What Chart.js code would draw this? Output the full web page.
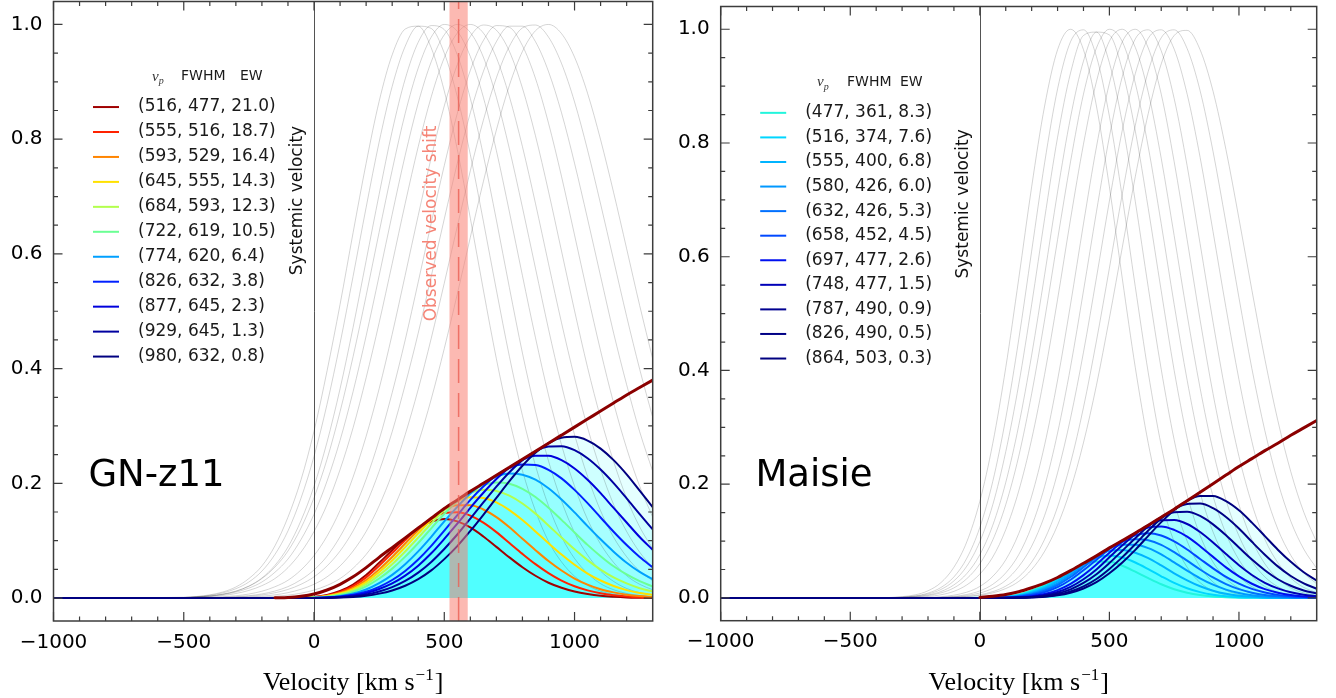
<!DOCTYPE html>
<html>
<head>
<meta charset="utf-8">
<title>Ly-alpha transmitted profiles: GN-z11 and Maisie</title>
<script src="https://cdn.jsdelivr.net/npm/chart.js@4.4.1/dist/chart.umd.min.js"></script>
<style>
  html, body { margin: 0; padding: 0; background: #fff; }
  #wrap { position: relative; width: 1336px; height: 698px; }
  canvas { position: absolute; top: 0; }
  #chartGN { left: 0; }
  #chartMA { left: 668px; }
</style>
</head>
<body>
<div id="wrap">
  <canvas id="chartGN" width="668" height="698"></canvas>
  <canvas id="chartMA" width="668" height="698"></canvas>
</div>
<script>
// #### SHARED VELOCITY GRID (km/s) ####
const V = [-1000, -500, -450, -400, -350, -300, -250, -200, -150, -100, -50, 0, 50, 100, 150, 200, 250, 300, 350, 400, 450, 500, 550, 600, 650, 700, 750, 800, 850, 900, 950, 1000, 1050, 1100, 1150, 1200, 1250, 1300];

const X_TICKS = [-1000, -500, 0, 500, 1000];
const Y_TICKS = [0, 0.2, 0.4, 0.6, 0.8, 1.0];

// #### GN-z11 ####
const vpGN = [516, 555, 593, 645, 684, 722, 774, 826, 877, 929, 980];
const fwhmGN = [477, 516, 529, 555, 593, 619, 620, 632, 645, 645, 632];
const ewGN = [21.0, 18.7, 16.4, 14.3, 12.3, 10.5, 6.4, 3.8, 2.3, 1.3, 0.8];
const obsShift = [520, 590];
const obsShiftMid = 555;

// IGM transmission envelope (dark red)
const transGN = [null, null, null, null, null, null, null, null, 0.0005, 0.001, 0.003, 0.007, 0.014, 0.024, 0.037, 0.053, 0.071, 0.088, 0.105, 0.122, 0.139, 0.156, 0.171, 0.186, 0.200, 0.214, 0.228, 0.242, 0.256, 0.270, 0.284, 0.298, 0.312, 0.326, 0.340, 0.354, 0.367, 0.380];

// intrinsic profiles (grey)
const greyGN = [
  [0, 0.0013, 0.0028, 0.0056, 0.0106, 0.0193, 0.034, 0.056, 0.091, 0.141, 0.206, 0.291, 0.396, 0.512, 0.637, 0.758, 0.866, 0.947, 0.992, 0.997, 0.959, 0.884, 0.782, 0.662, 0.537, 0.417, 0.311, 0.222, 0.152, 0.099, 0.063, 0.038, 0.022, 0.012, 0.0064, 0.0032, 0.0015, 0.0007],
  [0, 0.0012, 0.0024, 0.0048, 0.0090, 0.0163, 0.028, 0.047, 0.076, 0.117, 0.174, 0.247, 0.338, 0.444, 0.561, 0.681, 0.795, 0.892, 0.962, 0.997, 0.993, 0.950, 0.874, 0.773, 0.657, 0.537, 0.421, 0.318, 0.231, 0.161, 0.107, 0.069, 0.043, 0.025, 0.0145, 0.0080, 0.0042, 0.0022],
  [0, 0.0009, 0.0018, 0.0034, 0.0066, 0.0117, 0.021, 0.035, 0.057, 0.089, 0.135, 0.195, 0.272, 0.365, 0.472, 0.588, 0.704, 0.814, 0.905, 0.969, 0.998, 0.991, 0.947, 0.871, 0.772, 0.659, 0.541, 0.427, 0.326, 0.239, 0.169, 0.114, 0.075, 0.047, 0.029, 0.0167, 0.0094, 0.0052],
  [0, 0.0010, 0.0020, 0.0038, 0.0070, 0.0122, 0.0205, 0.034, 0.054, 0.082, 0.122, 0.175, 0.242, 0.325, 0.421, 0.527, 0.638, 0.746, 0.845, 0.924, 0.978, 1.000, 0.988, 0.944, 0.873, 0.780, 0.673, 0.562, 0.454, 0.354, 0.267, 0.195, 0.137, 0.094, 0.062, 0.039, 0.024, 0.0144],
  [0, 0.0009, 0.0018, 0.0033, 0.0060, 0.0105, 0.0173, 0.028, 0.045, 0.068, 0.102, 0.146, 0.204, 0.275, 0.360, 0.457, 0.562, 0.669, 0.772, 0.863, 0.935, 0.982, 1.000, 0.986, 0.943, 0.873, 0.783, 0.681, 0.575, 0.469, 0.371, 0.285, 0.212, 0.152, 0.106, 0.072, 0.047, 0.030],
  [0, 0.0007, 0.0014, 0.0025, 0.0045, 0.0079, 0.0133, 0.0216, 0.034, 0.053, 0.080, 0.116, 0.163, 0.224, 0.297, 0.384, 0.480, 0.583, 0.688, 0.787, 0.874, 0.942, 0.985, 1.000, 0.985, 0.942, 0.874, 0.787, 0.688, 0.583, 0.480, 0.384, 0.297, 0.224, 0.163, 0.116, 0.080, 0.053],
  [0, 0.0003, 0.0006, 0.0012, 0.0023, 0.0040, 0.0070, 0.0119, 0.0197, 0.031, 0.049, 0.074, 0.108, 0.153, 0.211, 0.282, 0.365, 0.460, 0.563, 0.667, 0.768, 0.858, 0.930, 0.979, 0.999, 0.990, 0.953, 0.889, 0.806, 0.709, 0.605, 0.501, 0.402, 0.314, 0.238, 0.174, 0.124, 0.086],
  [0, 0.0002, 0.0003, 0.0007, 0.0013, 0.0024, 0.0042, 0.0072, 0.0122, 0.0199, 0.032, 0.049, 0.073, 0.107, 0.151, 0.207, 0.276, 0.358, 0.450, 0.551, 0.654, 0.754, 0.845, 0.920, 0.972, 0.998, 0.995, 0.963, 0.906, 0.828, 0.735, 0.633, 0.530, 0.431, 0.340, 0.261, 0.195, 0.141],
  [0, 0.0001, 0.0003, 0.0005, 0.0009, 0.0018, 0.0032, 0.0054, 0.0092, 0.0150, 0.024, 0.037, 0.056, 0.082, 0.117, 0.163, 0.221, 0.290, 0.372, 0.462, 0.561, 0.661, 0.758, 0.846, 0.918, 0.970, 0.997, 0.997, 0.970, 0.918, 0.846, 0.758, 0.661, 0.561, 0.462, 0.372, 0.290, 0.221],
  [0, 0.0000, 0.0001, 0.0003, 0.0006, 0.0010, 0.0018, 0.0033, 0.0056, 0.0094, 0.0153, 0.024, 0.037, 0.056, 0.082, 0.116, 0.161, 0.217, 0.285, 0.364, 0.453, 0.549, 0.648, 0.745, 0.833, 0.907, 0.962, 0.994, 0.999, 0.978, 0.932, 0.865, 0.781, 0.687, 0.589, 0.491, 0.399, 0.315],
  [0, 0, 0.0001, 0.0001, 0.0003, 0.0005, 0.0009, 0.0016, 0.0029, 0.0051, 0.0085, 0.0139, 0.022, 0.034, 0.052, 0.076, 0.108, 0.151, 0.205, 0.270, 0.347, 0.435, 0.530, 0.629, 0.726, 0.816, 0.894, 0.953, 0.989, 1.000, 0.984, 0.943, 0.880, 0.799, 0.707, 0.609, 0.510, 0.417]
];

// transmitted profiles (coloured)
const lineGN = [
  [0, 0, 0, 0, 0, 0, 0, 0, 0, 0.0001, 0.0006, 0.0020, 0.0055, 0.0123, 0.0236, 0.0402, 0.0615, 0.0833, 0.1042, 0.1216, 0.1333, 0.1379, 0.1337, 0.1231, 0.1074, 0.0892, 0.0709, 0.0537, 0.0389, 0.0267, 0.0179, 0.0113, 0.0069, 0.0039, 0.0022, 0.0011, 0.0006, 0.0003],
  [0, 0, 0, 0, 0, 0, 0, 0, 0, 0.0001, 0.0005, 0.0017, 0.0047, 0.0107, 0.0208, 0.0361, 0.0564, 0.0785, 0.1010, 0.1216, 0.1380, 0.1482, 0.1495, 0.1438, 0.1314, 0.1149, 0.0960, 0.0770, 0.0591, 0.0435, 0.0304, 0.0206, 0.0134, 0.0082, 0.0049, 0.0028, 0.0015, 0.0008],
  [0, 0, 0, 0, 0, 0, 0, 0, 0, 0.0001, 0.0004, 0.0014, 0.0038, 0.0088, 0.0175, 0.0312, 0.0500, 0.0716, 0.0950, 0.1182, 0.1387, 0.1546, 0.1619, 0.1620, 0.1544, 0.1410, 0.1233, 0.1033, 0.0835, 0.0645, 0.0480, 0.0340, 0.0234, 0.0153, 0.0099, 0.0059, 0.0034, 0.0020],
  [0, 0, 0, 0, 0, 0, 0, 0, 0, 0.0001, 0.0004, 0.0012, 0.0034, 0.0078, 0.0156, 0.0279, 0.0453, 0.0656, 0.0887, 0.1127, 0.1359, 0.1560, 0.1689, 0.1756, 0.1746, 0.1669, 0.1534, 0.1360, 0.1162, 0.0956, 0.0758, 0.0581, 0.0427, 0.0306, 0.0211, 0.0138, 0.0088, 0.0055],
  [0, 0, 0, 0, 0, 0, 0, 0, 0, 0.0001, 0.0003, 0.0010, 0.0029, 0.0066, 0.0133, 0.0242, 0.0399, 0.0589, 0.0811, 0.1053, 0.1300, 0.1532, 0.1710, 0.1834, 0.1886, 0.1868, 0.1785, 0.1648, 0.1472, 0.1266, 0.1054, 0.0849, 0.0661, 0.0496, 0.0360, 0.0255, 0.0172, 0.0114],
  [0, 0, 0, 0, 0, 0, 0, 0, 0, 0.0001, 0.0002, 0.0008, 0.0023, 0.0054, 0.0110, 0.0204, 0.0341, 0.0513, 0.0722, 0.0960, 0.1215, 0.1470, 0.1684, 0.1860, 0.1970, 0.2016, 0.1993, 0.1905, 0.1761, 0.1574, 0.1363, 0.1144, 0.0927, 0.0730, 0.0554, 0.0411, 0.0294, 0.0201],
  [0, 0, 0, 0, 0, 0, 0, 0, 0, 0.0000, 0.0001, 0.0005, 0.0015, 0.0037, 0.0078, 0.0149, 0.0259, 0.0405, 0.0591, 0.0814, 0.1068, 0.1338, 0.1590, 0.1821, 0.1998, 0.2119, 0.2173, 0.2151, 0.2063, 0.1914, 0.1718, 0.1493, 0.1254, 0.1024, 0.0809, 0.0616, 0.0455, 0.0327],
  [0, 0, 0, 0, 0, 0, 0, 0, 0, 0.0000, 0.0001, 0.0003, 0.0010, 0.0026, 0.0056, 0.0110, 0.0196, 0.0315, 0.0473, 0.0672, 0.0909, 0.1176, 0.1445, 0.1711, 0.1944, 0.2136, 0.2269, 0.2330, 0.2319, 0.2236, 0.2087, 0.1886, 0.1654, 0.1405, 0.1156, 0.0924, 0.0716, 0.0536],
  [0, 0, 0, 0, 0, 0, 0, 0, 0, 0.0000, 0.0001, 0.0003, 0.0008, 0.0020, 0.0043, 0.0086, 0.0157, 0.0255, 0.0391, 0.0564, 0.0780, 0.1031, 0.1296, 0.1574, 0.1836, 0.2076, 0.2273, 0.2413, 0.2483, 0.2479, 0.2403, 0.2259, 0.2062, 0.1829, 0.1571, 0.1317, 0.1064, 0.0840],
  [0, 0, 0, 0, 0, 0, 0, 0, 0, 0.0000, 0.0000, 0.0002, 0.0005, 0.0013, 0.0030, 0.0061, 0.0114, 0.0191, 0.0299, 0.0444, 0.0630, 0.0856, 0.1108, 0.1386, 0.1666, 0.1941, 0.2193, 0.2405, 0.2557, 0.2641, 0.2647, 0.2578, 0.2437, 0.2240, 0.2003, 0.1738, 0.1464, 0.1197],
  [0, 0, 0, 0, 0, 0, 0, 0, 0, 0.0000, 0.0000, 0.0001, 0.0003, 0.0008, 0.0019, 0.0040, 0.0077, 0.0133, 0.0215, 0.0329, 0.0482, 0.0679, 0.0906, 0.1170, 0.1452, 0.1746, 0.2038, 0.2306, 0.2532, 0.2700, 0.2795, 0.2810, 0.2746, 0.2605, 0.2404, 0.2156, 0.1872, 0.1585]
];

// #### MAISIE ####
const vpMA = [477, 516, 555, 580, 632, 658, 697, 748, 787, 826, 864];
const fwhmMA = [361, 374, 400, 426, 426, 452, 477, 477, 490, 490, 503];
const ewMA = [8.3, 7.6, 6.8, 6.0, 5.3, 4.5, 2.6, 1.5, 0.9, 0.5, 0.3];

const transMA = [null, null, null, null, null, null, null, null, null, null, null, 0.001, 0.003, 0.006, 0.011, 0.018, 0.026, 0.036, 0.048, 0.061, 0.074, 0.088, 0.101, 0.114, 0.128, 0.142, 0.156, 0.171, 0.186, 0.201, 0.216, 0.231, 0.245, 0.259, 0.272, 0.286, 0.299, 0.312];

const greyMA = [
  [0, 0, 0.0001, 0.0003, 0.0008, 0.0023, 0.0054, 0.0126, 0.027, 0.054, 0.099, 0.170, 0.272, 0.405, 0.561, 0.723, 0.865, 0.964, 1.000, 0.964, 0.865, 0.723, 0.561, 0.405, 0.272, 0.170, 0.099, 0.054, 0.027, 0.0126, 0.0054, 0.0023, 0.0008, 0.0003, 0.0001, 0, 0, 0],
  [0, 0, 0.0001, 0.0002, 0.0006, 0.0015, 0.0036, 0.0085, 0.0184, 0.037, 0.070, 0.124, 0.205, 0.316, 0.454, 0.610, 0.765, 0.895, 0.978, 0.999, 0.952, 0.847, 0.704, 0.547, 0.396, 0.268, 0.169, 0.100, 0.055, 0.028, 0.0136, 0.0061, 0.0025, 0.0010, 0.0004, 0.0001, 0, 0],
  [0, 0, 0.0001, 0.0002, 0.0005, 0.0013, 0.0031, 0.0070, 0.0149, 0.030, 0.056, 0.099, 0.164, 0.257, 0.375, 0.516, 0.667, 0.810, 0.923, 0.989, 0.995, 0.941, 0.835, 0.697, 0.546, 0.402, 0.278, 0.181, 0.110, 0.063, 0.034, 0.0172, 0.0082, 0.0036, 0.0015, 0.0006, 0.0002, 0.0001],
  [0, 0, 0, 0.0001, 0.0004, 0.0010, 0.0024, 0.0053, 0.0113, 0.023, 0.043, 0.076, 0.128, 0.203, 0.303, 0.427, 0.568, 0.714, 0.845, 0.944, 0.995, 0.990, 0.928, 0.821, 0.685, 0.540, 0.400, 0.281, 0.185, 0.116, 0.068, 0.038, 0.0198, 0.0098, 0.0045, 0.0020, 0.0008, 0.0003],
  [0, 0, 0, 0.0001, 0.0003, 0.0008, 0.0019, 0.0042, 0.0089, 0.0177, 0.034, 0.060, 0.102, 0.164, 0.249, 0.359, 0.489, 0.630, 0.767, 0.886, 0.967, 1.000, 0.978, 0.905, 0.793, 0.658, 0.516, 0.383, 0.269, 0.179, 0.113, 0.067, 0.038, 0.0202, 0.0102, 0.0049, 0.0022, 0.0009],
  [0, 0, 0, 0.0001, 0.0002, 0.0005, 0.0011, 0.0026, 0.0056, 0.0116, 0.023, 0.042, 0.072, 0.120, 0.188, 0.279, 0.393, 0.525, 0.666, 0.798, 0.908, 0.979, 1.000, 0.968, 0.889, 0.773, 0.637, 0.498, 0.369, 0.259, 0.172, 0.109, 0.065, 0.037, 0.0198, 0.0101, 0.0049, 0.0022],
  [0, 0, 0, 0, 0.0001, 0.0001, 0.0004, 0.0009, 0.0022, 0.0049, 0.0102, 0.0202, 0.038, 0.067, 0.113, 0.179, 0.269, 0.383, 0.516, 0.658, 0.793, 0.905, 0.978, 1.000, 0.967, 0.886, 0.767, 0.630, 0.489, 0.359, 0.249, 0.164, 0.102, 0.060, 0.034, 0.0177, 0.0089, 0.0042],
  [0, 0, 0, 0, 0, 0.0001, 0.0002, 0.0005, 0.0012, 0.0028, 0.0061, 0.0124, 0.024, 0.044, 0.076, 0.126, 0.196, 0.290, 0.406, 0.540, 0.679, 0.811, 0.917, 0.983, 0.999, 0.962, 0.878, 0.760, 0.623, 0.485, 0.357, 0.249, 0.165, 0.103, 0.062, 0.035, 0.0185, 0.0094],
  [0, 0, 0, 0, 0, 0.0001, 0.0001, 0.0004, 0.0009, 0.0020, 0.0043, 0.0087, 0.0169, 0.031, 0.055, 0.091, 0.145, 0.220, 0.316, 0.432, 0.563, 0.698, 0.823, 0.922, 0.984, 0.999, 0.965, 0.886, 0.775, 0.644, 0.510, 0.384, 0.275, 0.188, 0.121, 0.075, 0.044, 0.025],
  [0, 0, 0, 0, 0, 0, 0.0001, 0.0002, 0.0006, 0.0013, 0.0028, 0.0057, 0.0111, 0.0208, 0.037, 0.063, 0.103, 0.160, 0.237, 0.335, 0.452, 0.580, 0.711, 0.831, 0.926, 0.985, 0.999, 0.966, 0.892, 0.785, 0.659, 0.528, 0.403, 0.294, 0.204, 0.135, 0.086, 0.052],
  [0, 0, 0, 0, 0, 0, 0.0001, 0.0002, 0.0005, 0.0011, 0.0023, 0.0045, 0.0089, 0.0165, 0.029, 0.050, 0.082, 0.128, 0.191, 0.273, 0.374, 0.492, 0.617, 0.741, 0.852, 0.939, 0.989, 0.998, 0.964, 0.891, 0.788, 0.667, 0.541, 0.420, 0.312, 0.222, 0.151, 0.098]
];

const lineMA = [
  [0, 0, 0, 0, 0, 0, 0, 0, 0, 0, 0, 0.0002, 0.0008, 0.0024, 0.0062, 0.0130, 0.0225, 0.0347, 0.0480, 0.0588, 0.0640, 0.0636, 0.0567, 0.0462, 0.0348, 0.0241, 0.0154, 0.0092, 0.0050, 0.0025, 0.0012, 0.0005, 0.0002, 0.0001, 0, 0, 0, 0],
  [0, 0, 0, 0, 0, 0, 0, 0, 0, 0, 0, 0.0001, 0.0006, 0.0019, 0.0050, 0.0110, 0.0199, 0.0322, 0.0469, 0.0609, 0.0704, 0.0745, 0.0711, 0.0624, 0.0507, 0.0381, 0.0264, 0.0171, 0.0102, 0.0056, 0.0029, 0.0014, 0.0006, 0.0003, 0.0001, 0, 0, 0],
  [0, 0, 0, 0, 0, 0, 0, 0, 0, 0, 0, 0.0001, 0.0005, 0.0015, 0.0041, 0.0093, 0.0173, 0.0292, 0.0443, 0.0603, 0.0736, 0.0828, 0.0843, 0.0795, 0.0699, 0.0571, 0.0434, 0.0310, 0.0205, 0.0127, 0.0073, 0.0040, 0.0020, 0.0009, 0.0004, 0.0002, 0.0001, 0],
  [0, 0, 0, 0, 0, 0, 0, 0, 0, 0, 0, 0.0001, 0.0004, 0.0012, 0.0033, 0.0077, 0.0148, 0.0257, 0.0406, 0.0576, 0.0736, 0.0871, 0.0937, 0.0936, 0.0877, 0.0767, 0.0624, 0.0481, 0.0344, 0.0233, 0.0147, 0.0088, 0.0049, 0.0025, 0.0012, 0.0006, 0.0002, 0.0001],
  [0, 0, 0, 0, 0, 0, 0, 0, 0, 0, 0, 0.0001, 0.0003, 0.0010, 0.0027, 0.0065, 0.0127, 0.0227, 0.0368, 0.0540, 0.0716, 0.0880, 0.0988, 0.1032, 0.1015, 0.0934, 0.0805, 0.0655, 0.0500, 0.0360, 0.0244, 0.0155, 0.0093, 0.0052, 0.0028, 0.0014, 0.0007, 0.0003],
  [0, 0, 0, 0, 0, 0, 0, 0, 0, 0, 0, 0.0000, 0.0002, 0.0007, 0.0021, 0.0050, 0.0102, 0.0189, 0.0320, 0.0487, 0.0672, 0.0862, 0.1010, 0.1104, 0.1138, 0.1098, 0.0994, 0.0852, 0.0686, 0.0521, 0.0372, 0.0252, 0.0159, 0.0096, 0.0054, 0.0029, 0.0015, 0.0007],
  [0, 0, 0, 0, 0, 0, 0, 0, 0, 0, 0, 0.0000, 0.0001, 0.0004, 0.0012, 0.0032, 0.0070, 0.0138, 0.0248, 0.0401, 0.0587, 0.0796, 0.0988, 0.1140, 0.1238, 0.1258, 0.1197, 0.1077, 0.0910, 0.0722, 0.0538, 0.0379, 0.0250, 0.0155, 0.0092, 0.0051, 0.0027, 0.0013],
  [0, 0, 0, 0, 0, 0, 0, 0, 0, 0, 0, 0.0000, 0.0001, 0.0003, 0.0008, 0.0023, 0.0051, 0.0104, 0.0195, 0.0329, 0.0502, 0.0714, 0.0926, 0.1121, 0.1279, 0.1366, 0.1370, 0.1300, 0.1159, 0.0975, 0.0771, 0.0575, 0.0404, 0.0267, 0.0169, 0.0100, 0.0055, 0.0029],
  [0, 0, 0, 0, 0, 0, 0, 0, 0, 0, 0, 0.0000, 0.0001, 0.0002, 0.0006, 0.0016, 0.0038, 0.0079, 0.0152, 0.0264, 0.0417, 0.0614, 0.0831, 0.1051, 0.1260, 0.1419, 0.1505, 0.1515, 0.1442, 0.1294, 0.1102, 0.0887, 0.0674, 0.0487, 0.0329, 0.0215, 0.0132, 0.0078],
  [0, 0, 0, 0, 0, 0, 0, 0, 0, 0, 0, 0.0000, 0.0000, 0.0001, 0.0004, 0.0011, 0.0027, 0.0058, 0.0114, 0.0204, 0.0334, 0.0510, 0.0718, 0.0947, 0.1185, 0.1399, 0.1558, 0.1652, 0.1659, 0.1578, 0.1423, 0.1220, 0.0987, 0.0761, 0.0555, 0.0386, 0.0257, 0.0162],
  [0, 0, 0, 0, 0, 0, 0, 0, 0, 0, 0, 0.0000, 0.0000, 0.0001, 0.0003, 0.0009, 0.0021, 0.0046, 0.0092, 0.0167, 0.0277, 0.0433, 0.0623, 0.0845, 0.1091, 0.1333, 0.1543, 0.1707, 0.1793, 0.1791, 0.1702, 0.1541, 0.1325, 0.1088, 0.0849, 0.0635, 0.0451, 0.0306]
];

// #### STYLES ####
const colorsGN = ['#a00000', '#ff2200', '#ff8500', '#ffe100', '#b3ff4d', '#6bff94', '#00a0ff', '#0020ff', '#0000dc', '#0000a0', '#000080'];
const colorsMA = ['#22f5dc', '#00d6ff', '#00b4ff', '#0098ff', '#0070ff', '#0048ff', '#0010f0', '#0000b8', '#000090', '#000085', '#000080'];
const SANS = '"DejaVu Sans", "Liberation Sans", sans-serif';
const SERIF = '"Liberation Serif", "DejaVu Serif", serif';

let fmtX = (v) => (v < 0 ? '\u2212' + Math.abs(v) : String(v));

// #### FRAME PLUGIN: spines, inward ticks, labels, legend, annotations ####
function makeFrame(p) {
    return {
        id: 'frame',
        beforeDatasetsDraw(chart) {
            const {ctx, chartArea: a} = chart;
            const px = Math.round(chart.scales.x.getPixelForValue(0)) + 0.5;
            ctx.save();
            ctx.strokeStyle = 'rgba(40,40,40,0.8)';
            ctx.lineWidth = 1;
            ctx.beginPath();
            ctx.moveTo(px, a.top);
            ctx.lineTo(px, a.bottom);
            ctx.stroke();
            ctx.restore();
        },
        afterDatasetsDraw(chart) {
            const {ctx, chartArea: a} = chart;
            const x = chart.scales.x, y = chart.scales.y;
            ctx.save();

            // observed shift band
            if (p.band) {
                const x1 = x.getPixelForValue(p.band[0]);
                const x2 = x.getPixelForValue(p.band[1]);
                ctx.fillStyle = 'rgba(250,128,114,0.55)';
                ctx.fillRect(x1, a.top, x2 - x1, a.bottom - a.top);
                const xm = x.getPixelForValue(p.bandMid);
                ctx.strokeStyle = 'rgba(235,95,85,0.8)';
                ctx.lineWidth = 1.5;
                ctx.setLineDash([24, 10]);
                ctx.beginPath();
                ctx.moveTo(xm, a.bottom);
                ctx.lineTo(xm, a.top);
                ctx.stroke();
                ctx.setLineDash([]);
            }

            // spines
            ctx.strokeStyle = '#3c3c3c';
            ctx.lineWidth = 1.5;
            ctx.strokeRect(a.left, a.top, a.right - a.left, a.bottom - a.top);

            // ticks (inward, on all four sides)
            ctx.lineWidth = 1.2;
            ctx.beginPath();
            for (let v = -1000; v <= 1200; v += 100) {
                const px = x.getPixelForValue(v);
                const len = v % 500 === 0 ? 9 : 4.5;
                ctx.moveTo(px, a.bottom);
                ctx.lineTo(px, a.bottom - len);
                ctx.moveTo(px, a.top);
                ctx.lineTo(px, a.top + len);
            }
            for (let i = 0; i <= 20; i++) {
                const py = y.getPixelForValue(i * 0.05);
                const len = i % 4 === 0 ? 9 : 4.5;
                ctx.moveTo(a.left, py);
                ctx.lineTo(a.left + len, py);
                ctx.moveTo(a.right, py);
                ctx.lineTo(a.right - len, py);
            }
            ctx.stroke();

            // tick labels
            ctx.fillStyle = '#000';
            ctx.font = '20px ' + SANS;
            ctx.textAlign = 'center';
            ctx.textBaseline = 'middle';
            X_TICKS.forEach(v => ctx.fillText(fmtX(v), x.getPixelForValue(v), a.bottom + 21.5));
            ctx.textAlign = 'right';
            Y_TICKS.forEach(v => ctx.fillText(v.toFixed(1), a.left - 11, y.getPixelForValue(v)));

            // axis title with superscript
            const s1 = 'Velocity [km s', s2 = '\u22121', s3 = ']';
            ctx.textAlign = 'left';
            ctx.textBaseline = 'alphabetic';
            ctx.font = '26px ' + SERIF;
            const w1 = ctx.measureText(s1).width, w3 = ctx.measureText(s3).width;
            ctx.font = '17px ' + SERIF;
            const w2 = ctx.measureText(s2).width;
            let tx = (a.left + a.right) / 2 - (w1 + w2 + w3 + 2) / 2;
            const ty = a.bottom + 69;
            ctx.font = '26px ' + SERIF;
            ctx.fillText(s1, tx, ty);
            ctx.font = '17px ' + SERIF;
            ctx.fillText(s2, tx + w1 + 1, ty - 10);
            ctx.font = '26px ' + SERIF;
            ctx.fillText(s3, tx + w1 + w2 + 2, ty);

            // legend header
            const L = p.legend;
            const hy = y.getPixelForValue(L.header);
            ctx.textBaseline = 'middle';
            ctx.fillStyle = '#333';
            ctx.font = 'italic 15px ' + SERIF;
            ctx.fillText('v', a.left + L.cols[0], hy);
            const vw = ctx.measureText('v').width;
            ctx.font = 'italic 10px ' + SERIF;
            ctx.fillText('p', a.left + L.cols[0] + vw, hy + 5);
            ctx.fillStyle = '#1a1a1a';
            ctx.font = '14px ' + SANS;
            ctx.fillText('FWHM', a.left + L.cols[1], hy);
            ctx.fillText('EW', a.left + L.cols[2], hy);

            // legend rows
            ctx.font = '17px ' + SANS;
            p.vp.forEach((vp, i) => {
                const ry = y.getPixelForValue(L.row0 - i * L.step);
                ctx.strokeStyle = p.colors[i];
                ctx.lineWidth = 2;
                ctx.beginPath();
                ctx.moveTo(a.left + 39.5, ry);
                ctx.lineTo(a.left + 65.5, ry);
                ctx.stroke();
                ctx.fillText('(' + vp + ', ' + p.fwhm[i] + ', ' + p.ew[i].toFixed(1) + ')', a.left + 84.5, ry);
            });

            // galaxy name
            ctx.fillStyle = '#000';
            ctx.font = '37px ' + SANS;
            ctx.textBaseline = 'alphabetic';
            ctx.fillText(p.name, x.getPixelForValue(-866), y.getPixelForValue(0.196));

            // rotated annotations
            const rot = (txt, v, val, color) => {
                ctx.save();
                ctx.translate(x.getPixelForValue(v), y.getPixelForValue(val));
                ctx.rotate(-Math.PI / 2);
                ctx.fillStyle = color;
                ctx.font = '17px ' + SANS;
                ctx.textAlign = 'center';
                ctx.textBaseline = 'middle';
                ctx.fillText(txt, 0, 0);
                ctx.restore();
            };
            rot('Systemic velocity', -62, 0.693, '#111');
            if (p.band) rot('Observed velocity shift', 452, 0.653, '#f58476');

            ctx.restore();
        }
    };
}

// #### CHART BUILDER ####
let pts = (ys) => V.map((v, i) => ({x: v, y: ys[i]}));

function buildPanel(canvasId, p, pad) {
    const datasets = [];
    p.grey.forEach(g => datasets.push({
        data: pts(g), borderColor: 'rgba(0,0,0,0.17)', borderWidth: 1, fill: false, order: 30
    }));
    p.lines.forEach((c, i) => datasets.push({
        data: pts(c), borderColor: p.colors[i], borderWidth: 2,
        backgroundColor: 'rgba(0,255,255,0.1)', fill: 'origin', order: 20 - i
    }));
    datasets.push({data: pts(p.trans), borderColor: '#8b0000', borderWidth: 3, fill: false, order: 0});

    return new Chart(document.getElementById(canvasId).getContext('2d'), {
        type: 'line',
        data: {datasets: datasets},
        options: {
            responsive: false,
            animation: false,
            devicePixelRatio: 1,
            events: [],
            layout: {padding: pad},
            elements: {
                point: {radius: 0},
                line: {cubicInterpolationMode: 'monotone', borderCapStyle: 'round'}
            },
            scales: {
                x: {type: 'linear', min: -1000, max: 1300, display: false},
                y: {type: 'linear', min: -0.04, max: 1.04, display: false}
            },
            plugins: {
                legend: {display: false},
                tooltip: {enabled: false},
                filler: {drawTime: 'beforeDatasetsDraw'}
            }
        },
        plugins: [makeFrame(p)]
    });
}

buildPanel('chartGN', {
    name: 'GN-z11', grey: greyGN, lines: lineGN, trans: transGN, colors: colorsGN,
    vp: vpGN, fwhm: fwhmGN, ew: ewGN, band: obsShift, bandMid: obsShiftMid,
    legend: {header: 0.909, row0: 0.856, step: 0.0435, cols: [98.5, 127.5, 186.5]}
}, {left: 53.5, right: 15.3, top: 1.5, bottom: 77});

buildPanel('chartMA', {
    name: 'Maisie', grey: greyMA, lines: lineMA, trans: transMA, colors: colorsMA,
    vp: vpMA, fwhm: fwhmMA, ew: ewMA, band: null,
    legend: {header: 0.907, row0: 0.853, step: 0.0432, cols: [96.3, 126.3, 179.3]}
}, {left: 52.7, right: 19.3, top: 6.5, bottom: 77.3});
</script>
</body>
</html>
